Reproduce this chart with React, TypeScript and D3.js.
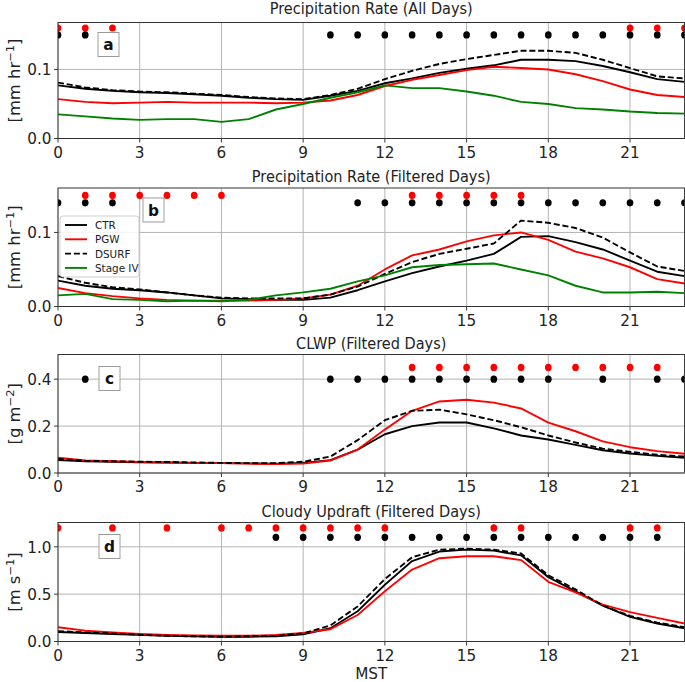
import React from 'react';
import * as d3 from 'd3';

const hours = [0, 1, 2, 3, 4, 5, 6, 7, 8, 9, 10, 11, 12, 13, 14, 15, 16, 17, 18, 19, 20, 21, 22, 23];
const xTicks = [0, 3, 6, 9, 12, 15, 18, 21];

// Panel a: Precipitation Rate (All Days)
const aCTR = [0.077, 0.072, 0.069, 0.067, 0.066, 0.064, 0.062, 0.059, 0.057, 0.056, 0.062, 0.069, 0.080, 0.087, 0.095, 0.101, 0.106, 0.114, 0.114, 0.112, 0.105, 0.096, 0.086, 0.082];
const aPGW = [0.057, 0.053, 0.051, 0.052, 0.053, 0.052, 0.052, 0.052, 0.051, 0.052, 0.055, 0.063, 0.076, 0.085, 0.092, 0.099, 0.104, 0.102, 0.100, 0.093, 0.083, 0.071, 0.063, 0.060];
const aDSURF = [0.081, 0.074, 0.070, 0.068, 0.067, 0.065, 0.063, 0.060, 0.058, 0.057, 0.063, 0.072, 0.086, 0.098, 0.108, 0.115, 0.121, 0.127, 0.127, 0.124, 0.114, 0.102, 0.090, 0.087];
const aStageIV = [0.035, 0.032, 0.029, 0.027, 0.028, 0.028, 0.024, 0.028, 0.042, 0.050, 0.059, 0.067, 0.077, 0.073, 0.073, 0.068, 0.062, 0.053, 0.050, 0.044, 0.042, 0.039, 0.037, 0.036];
const aRedDots = [0, 1, 2, 21, 22, 23];
const aBlackDots = [0, 1, 10, 11, 12, 13, 14, 15, 16, 17, 18, 19, 20, 21, 22, 23];

// Panel b: Precipitation Rate (Filtered Days)
const bCTR = [0.035, 0.028, 0.024, 0.022, 0.019, 0.015, 0.011, 0.010, 0.009, 0.009, 0.012, 0.022, 0.034, 0.045, 0.054, 0.062, 0.071, 0.094, 0.095, 0.087, 0.077, 0.062, 0.047, 0.041];
const bPGW = [0.025, 0.018, 0.014, 0.011, 0.009, 0.008, 0.008, 0.008, 0.009, 0.011, 0.016, 0.028, 0.050, 0.069, 0.077, 0.088, 0.096, 0.100, 0.090, 0.074, 0.065, 0.053, 0.037, 0.031];
const bDSURF = [0.041, 0.032, 0.026, 0.023, 0.019, 0.015, 0.012, 0.011, 0.011, 0.011, 0.016, 0.027, 0.044, 0.060, 0.071, 0.078, 0.085, 0.116, 0.113, 0.106, 0.093, 0.073, 0.054, 0.048];
const bStageIV = [0.015, 0.017, 0.010, 0.009, 0.007, 0.008, 0.007, 0.009, 0.015, 0.019, 0.024, 0.034, 0.042, 0.053, 0.056, 0.057, 0.058, 0.050, 0.042, 0.028, 0.019, 0.019, 0.020, 0.018];
const bRedDots = [1, 2, 3, 4, 5, 6, 13, 14, 15, 16, 17];
const bBlackDots = [0, 1, 2, 11, 12, 13, 14, 15, 16, 17, 18, 19, 20, 21, 22, 23];

// Panel c: CLWP (Filtered Days)
const cCTR = [0.055, 0.050, 0.048, 0.046, 0.045, 0.043, 0.042, 0.041, 0.040, 0.043, 0.055, 0.100, 0.165, 0.200, 0.215, 0.215, 0.190, 0.160, 0.143, 0.120, 0.097, 0.083, 0.073, 0.065];
const cPGW = [0.065, 0.053, 0.050, 0.047, 0.045, 0.043, 0.042, 0.040, 0.038, 0.040, 0.053, 0.100, 0.185, 0.265, 0.305, 0.312, 0.300, 0.275, 0.215, 0.178, 0.135, 0.110, 0.093, 0.082];
const cDSURF = [0.060, 0.052, 0.050, 0.048, 0.047, 0.045, 0.043, 0.042, 0.042, 0.048, 0.070, 0.140, 0.225, 0.265, 0.270, 0.250, 0.225, 0.195, 0.160, 0.130, 0.104, 0.090, 0.078, 0.070];
const cRedDots = [13, 14, 15, 16, 17, 18, 19, 20, 21, 22];
const cBlackDots = [1, 10, 11, 12, 13, 14, 15, 16, 17, 18, 20, 22, 23];

// Panel d: Cloudy Updraft (Filtered Days)
const dCTR = [0.100, 0.090, 0.080, 0.070, 0.060, 0.055, 0.050, 0.050, 0.055, 0.075, 0.140, 0.320, 0.600, 0.850, 0.950, 0.970, 0.960, 0.910, 0.680, 0.530, 0.380, 0.260, 0.190, 0.140];
const dPGW = [0.150, 0.115, 0.095, 0.080, 0.070, 0.065, 0.060, 0.060, 0.070, 0.090, 0.130, 0.280, 0.530, 0.760, 0.880, 0.900, 0.900, 0.860, 0.630, 0.520, 0.390, 0.310, 0.250, 0.190];
const dDSURF = [0.110, 0.095, 0.085, 0.070, 0.060, 0.055, 0.050, 0.055, 0.060, 0.085, 0.170, 0.370, 0.660, 0.890, 0.970, 0.980, 0.970, 0.930, 0.700, 0.550, 0.380, 0.270, 0.200, 0.150];
const dRedDots = [0, 2, 4, 6, 7, 8, 9, 10, 11, 12, 16, 17, 21, 22];
const dBlackDots = [8, 9, 10, 11, 12, 13, 14, 15, 16, 17, 18, 19, 20, 21, 22];

const S = 0.93; // slight horizontal squeeze of the whole figure
const W = 685;
const H = 682;
const X0 = 58;
const X1 = 684.5;

type Series = { name: string; values: number[]; color: string; dash?: string };

type Panel = {
  key: string;
  title: string;
  letter: string;
  unit: [string, string, string];
  top: number;
  bottom: number;
  titleOffset: number;
  yMax: number;
  yTicks: number[];
  series: Series[];
  redDots: number[];
  blackDots: number[];
  redLevel: number;
  blackLevel: number;
  boxTop: number;
  boxX: number;
  legend?: boolean;
  xlabel?: boolean;
};

const panels: Panel[] = [
  {
    key: 'a', title: 'Precipitation Rate (All Days)', letter: 'a', unit: ['[mm hr', '\u22121', ']'],
    top: 22.5, bottom: 138.5, titleOffset: 8, yMax: 0.168, yTicks: [0, 0.1],
    series: [
      { name: 'CTR', values: aCTR, color: '#000000' },
      { name: 'PGW', values: aPGW, color: '#ff0000' },
      { name: 'DSURF', values: aDSURF, color: '#000000', dash: '6.5,3' },
      { name: 'Stage IV', values: aStageIV, color: '#008000' },
    ],
    redDots: aRedDots, blackDots: aBlackDots, redLevel: 0.16, blackLevel: 0.15, boxTop: 10, boxX: 98,
  },
  {
    key: 'b', title: 'Precipitation Rate (Filtered Days)', letter: 'b', unit: ['[mm hr', '\u22121', ']'],
    top: 188, bottom: 306.5, titleOffset: 5.5, yMax: 0.16, yTicks: [0, 0.1],
    series: [
      { name: 'CTR', values: bCTR, color: '#000000' },
      { name: 'PGW', values: bPGW, color: '#ff0000' },
      { name: 'DSURF', values: bDSURF, color: '#000000', dash: '6.5,3' },
      { name: 'Stage IV', values: bStageIV, color: '#008000' },
    ],
    redDots: bRedDots, blackDots: bBlackDots, redLevel: 0.15, blackLevel: 0.14, boxTop: 10, boxX: 143, legend: true,
  },
  {
    key: 'c', title: 'CLWP (Filtered Days)', letter: 'c', unit: ['[g m', '\u22122', ']'],
    top: 354.5, bottom: 473, titleOffset: 5.5, yMax: 0.505, yTicks: [0, 0.2, 0.4],
    series: [
      { name: 'CTR', values: cCTR, color: '#000000' },
      { name: 'PGW', values: cPGW, color: '#ff0000' },
      { name: 'DSURF', values: cDSURF, color: '#000000', dash: '6.5,3' },
    ],
    redDots: cRedDots, blackDots: cBlackDots, redLevel: 0.45, blackLevel: 0.4, boxTop: 12, boxX: 99,
  },
  {
    key: 'd', title: 'Cloudy Updraft (Filtered Days)', letter: 'd', unit: ['[m s', '\u22121', ']'],
    top: 522.5, bottom: 641.5, titleOffset: 5.5, yMax: 1.257, yTicks: [0, 0.5, 1.0],
    series: [
      { name: 'CTR', values: dCTR, color: '#000000' },
      { name: 'PGW', values: dPGW, color: '#ff0000' },
      { name: 'DSURF', values: dDSURF, color: '#000000', dash: '6.5,3' },
    ],
    redDots: dRedDots, blackDots: dBlackDots, redLevel: 1.2, blackLevel: 1.1, boxTop: 12, boxX: 99, xlabel: true,
  },
];

const legendItems: Series[] = [
  { name: 'CTR', values: [], color: '#000000' },
  { name: 'PGW', values: [], color: '#ff0000' },
  { name: 'DSURF', values: [], color: '#000000', dash: '6.5,3' },
  { name: 'Stage IV', values: [], color: '#008000' },
];

const FONT = "'DejaVu Sans', sans-serif";
const TICK_FS = 16.4;
const TITLE_FS = 15.6;

function PanelView({ p }: { p: Panel }) {
  const x = d3.scaleLinear().domain([0, 23]).range([X0 / S, X1 / S]);
  const y = d3.scaleLinear().domain([0, p.yMax]).range([p.bottom, p.top]);
  const line = d3
    .line<number>()
    .x((_, i) => x(hours[i]))
    .y((v) => y(v));
  const clipId = `clip-${p.key}`;
  const left = x(0);
  const right = x(23);
  const mid = (p.top + p.bottom) / 2;
  const fmt = d3.format('.1f');
  return (
    <g>
      <defs>
        <clipPath id={clipId}>
          <rect x={left} y={p.top} width={right - left} height={p.bottom - p.top} />
        </clipPath>
      </defs>
      {xTicks.map((t) => (
        <line key={`gx${t}`} x1={x(t)} x2={x(t)} y1={p.top} y2={p.bottom} stroke="#b0b0b0" strokeWidth={1} />
      ))}
      {p.yTicks.map((t) => (
        <line key={`gy${t}`} x1={left} x2={right} y1={y(t)} y2={y(t)} stroke="#b0b0b0" strokeWidth={1} />
      ))}
      <g clipPath={`url(#${clipId})`}>
        {p.series.map((s) => (
          <path
            key={s.name}
            d={line(s.values) || ''}
            fill="none"
            stroke={s.color}
            strokeWidth={1.9}
            strokeDasharray={s.dash}
            strokeLinejoin="round"
          />
        ))}
        {p.redDots.map((h) => (
          <circle key={`r${h}`} cx={x(h)} cy={y(p.redLevel)} r={3.6} fill="#ff0000" />
        ))}
        {p.blackDots.map((h) => (
          <circle key={`k${h}`} cx={x(h)} cy={y(p.blackLevel)} r={3.6} fill="#000000" />
        ))}
      </g>
      <rect x={left} y={p.top} width={right - left} height={p.bottom - p.top} fill="none" stroke="#333" strokeWidth={1} />
      {xTicks.map((t) => (
        <g key={`tx${t}`}>
          <line x1={x(t)} x2={x(t)} y1={p.bottom} y2={p.bottom + 4} stroke="#333" strokeWidth={1} />
          <text x={x(t)} y={p.bottom + 19.2} textAnchor="middle" fontSize={TICK_FS} fill="#222">
            {t}
          </text>
        </g>
      ))}
      {p.yTicks.map((t) => (
        <g key={`ty${t}`}>
          <line x1={left - 4 / S} x2={left} y1={y(t)} y2={y(t)} stroke="#333" strokeWidth={1} />
          <text x={left - 6.5 / S} y={y(t)} dy="0.36em" textAnchor="end" fontSize={TICK_FS} fill="#222">
            {fmt(t)}
          </text>
        </g>
      ))}
      <text x={(left + right) / 2} y={p.top - p.titleOffset} textAnchor="middle" fontSize={TITLE_FS} fill="#222">
        {p.title}
      </text>
      <text transform={`translate(${20 / S},${mid}) rotate(-90)`} textAnchor="middle" fontSize={TICK_FS} fill="#222">
        {p.unit[0]}
        <tspan dy={-6} fontSize={11.5}>{p.unit[1]}</tspan>
        <tspan dy={6}>{p.unit[2]}</tspan>
      </text>
      <rect x={p.boxX / S} y={p.top + p.boxTop} width={21 / S} height={24} fill="#ffffff" stroke="#999" strokeWidth={1} />
      <text x={(p.boxX + 10.5) / S} y={p.top + p.boxTop + 12} dy="0.36em" textAnchor="middle" fontSize={16.5} fontWeight="bold" fill="#111">
        {p.letter}
      </text>
      {p.legend && (
        <g>
          <rect x={60 / S} y={216} width={79 / S} height={61} rx={3} fill="#ffffff" fillOpacity={0.85} stroke="#cccccc" strokeWidth={1} />
          {legendItems.map((s, i) => (
            <g key={s.name}>
              <line x1={65 / S} x2={87 / S} y1={225 + i * 14.3} y2={225 + i * 14.3} stroke={s.color} strokeWidth={1.9} strokeDasharray={s.dash} />
              <text x={95 / S} y={225 + i * 14.3} dy="0.36em" fontSize={11.2} fill="#222">
                {s.name}
              </text>
            </g>
          ))}
        </g>
      )}
      {p.xlabel && (
        <text x={(left + right) / 2} y={p.bottom + 37.5} textAnchor="middle" fontSize={TICK_FS} fill="#222">
          MST
        </text>
      )}
    </g>
  );
}

export default function App() {
  return (
    <svg
      width={W}
      height={H}
      viewBox={`0 0 ${W} ${H}`}
      style={{ position: 'absolute', left: 0, top: 0, background: '#fff' }}
      fontFamily={FONT}
    >
      <rect x={0} y={0} width={W} height={H} fill="#ffffff" />
      <g transform={`scale(${S},1)`}>
        {panels.map((p) => (
          <PanelView key={p.key} p={p} />
        ))}
      </g>
    </svg>
  );
}
